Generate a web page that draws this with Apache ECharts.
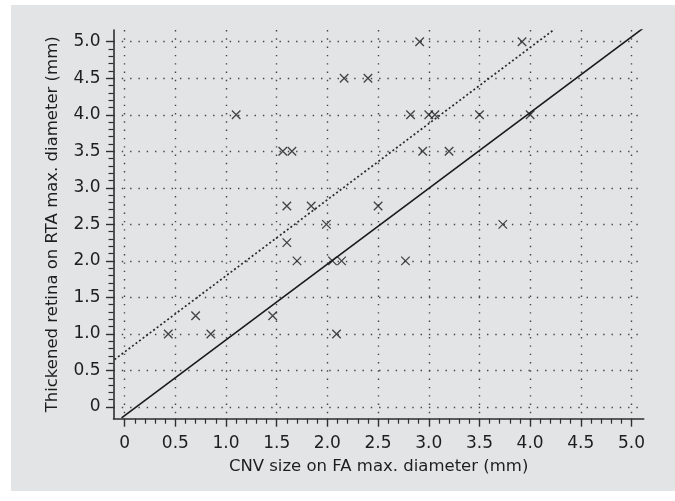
<!DOCTYPE html>
<html>
<head>
<meta charset="utf-8">
<script src="https://cdn.jsdelivr.net/npm/echarts@6/dist/echarts.min.js"></script>
<style>
html,body{margin:0;padding:0;background:#ffffff;}
#chart{width:675px;height:501px;}
</style>
</head>
<body>
<div id="chart"></div>
<script>
// Data
const cnvSize = [0.43,0.70,0.85,1.10,1.46,1.56,1.65,1.60,1.60,1.70,1.84,1.99,2.05,2.14,2.09,2.165,2.40,2.50,2.77,2.82,2.91,2.94,3.00,3.06,3.20,3.50,3.73,3.92,4.00];
const rtaSize = [1.00,1.25,1.00,4.00,1.25,3.50,3.50,2.75,2.25,2.00,2.75,2.50,2.00,2.00,1.00,4.50,4.50,2.75,2.00,4.00,5.00,3.50,4.00,4.00,3.50,4.00,2.50,5.00,4.00];
const solidLineX = [-0.03, 5.12];
const solidLineY = [-0.15, 5.19];
const dottedLineX = [-0.10, 4.24];
const dottedLineY = [0.65, 5.17];
const xTitle = 'CNV size on FA max. diameter (mm)';
const yTitle = 'Thickened retina on RTA max. diameter (mm)';

const points = cnvSize.map((x, i) => [x, rtaSize[i]]);
const solidLine = solidLineX.map((x, i) => [x, solidLineY[i]]);
const dottedLine = dottedLineX.map((x, i) => [x, dottedLineY[i]]);

const FONT = 'DejaVu Sans';
const TXT = '#1e1e1e';
const AX = '#2e2e2e';
const gridDots = {show: true, lineStyle: {color: '#444', width: 1.4, type: [1.4, 6.9]}};
const fmt = v => v === 0 ? '0' : v.toFixed(1);

const chart = echarts.init(document.getElementById('chart'), null, {renderer: 'canvas'});
chart.setOption({
  animation: false,
  backgroundColor: '#ffffff',
  graphic: [{type: 'rect', z: -10, silent: true, shape: {x: 11, y: 5, width: 664, height: 486}, style: {fill: '#e3e4e5'}}],
  grid: [
    {left: 113.5, right: 31.3, top: 30, bottom: 82.3},
    {left: 124.65, right: 43.5, top: 30, bottom: 82.3},
    {left: 113.5, right: 31.3, top: 41.7, bottom: 94}
  ],
  xAxis: [
    {gridIndex: 0, type: 'value', min: -0.11, max: 5.12,
     axisLine: {show: true, onZero: false, lineStyle: {color: AX, width: 1.6}},
     axisTick: {show: false}, axisLabel: {show: false}, splitLine: {show: false},
     name: xTitle, nameLocation: 'middle', nameGap: 40,
     nameTextStyle: {fontFamily: FONT, fontSize: 16.5, color: TXT}},
    {gridIndex: 1, type: 'value', min: 0, max: 5, interval: 0.5,
     axisLine: {show: false, onZero: false},
     axisTick: {show: true, inside: false, length: 8, lineStyle: {color: AX, width: 1.4}},
     minorTick: {show: true, splitNumber: 5, length: 5, lineStyle: {color: AX, width: 1.2}},
     axisLabel: {show: true, margin: 16, fontFamily: FONT, fontSize: 17, color: TXT, formatter: fmt},
     splitLine: gridDots},
    {gridIndex: 2, type: 'value', min: 0, max: 5, show: false, axisLine: {show: false, onZero: false}}
  ],
  yAxis: [
    {gridIndex: 0, type: 'value', min: -0.16, max: 5.16,
     axisLine: {show: true, onZero: false, lineStyle: {color: AX, width: 1.6}},
     axisTick: {show: false}, axisLabel: {show: false}, splitLine: {show: false},
     name: yTitle, nameLocation: 'middle', nameGap: 52, nameRotate: 90,
     nameTextStyle: {fontFamily: FONT, fontSize: 16.5, color: TXT}},
    {gridIndex: 1, type: 'value', min: 0, max: 5, show: false, axisLine: {show: false, onZero: false}},
    {gridIndex: 2, type: 'value', min: 0, max: 5, interval: 0.5,
     axisLine: {show: false, onZero: false},
     axisTick: {show: true, inside: false, length: 7.5, lineStyle: {color: AX, width: 1.4}},
     minorTick: {show: true, splitNumber: 5, length: 5, lineStyle: {color: AX, width: 1.2}},
     axisLabel: {show: true, margin: 13, fontFamily: FONT, fontSize: 17, color: TXT, formatter: fmt},
     splitLine: gridDots}
  ],
  series: [
    {type: 'line', xAxisIndex: 0, yAxisIndex: 0, data: solidLine, symbol: 'none',
     lineStyle: {color: '#1a1a1a', width: 1.6}, z: 3},
    {type: 'line', xAxisIndex: 0, yAxisIndex: 0, data: dottedLine, symbol: 'none',
     lineStyle: {color: '#2a2a2a', width: 1.7, type: [2, 2.4]}, z: 3},
    {type: 'scatter', xAxisIndex: 0, yAxisIndex: 0, data: points,
     symbol: 'path://M0,0L10,10M10,0L0,10', symbolSize: 8.5,
     itemStyle: {color: 'rgba(0,0,0,0)', borderColor: '#1a1a1a', borderWidth: 1.3}, z: 4}
  ]
});
</script>
</body>
</html>
